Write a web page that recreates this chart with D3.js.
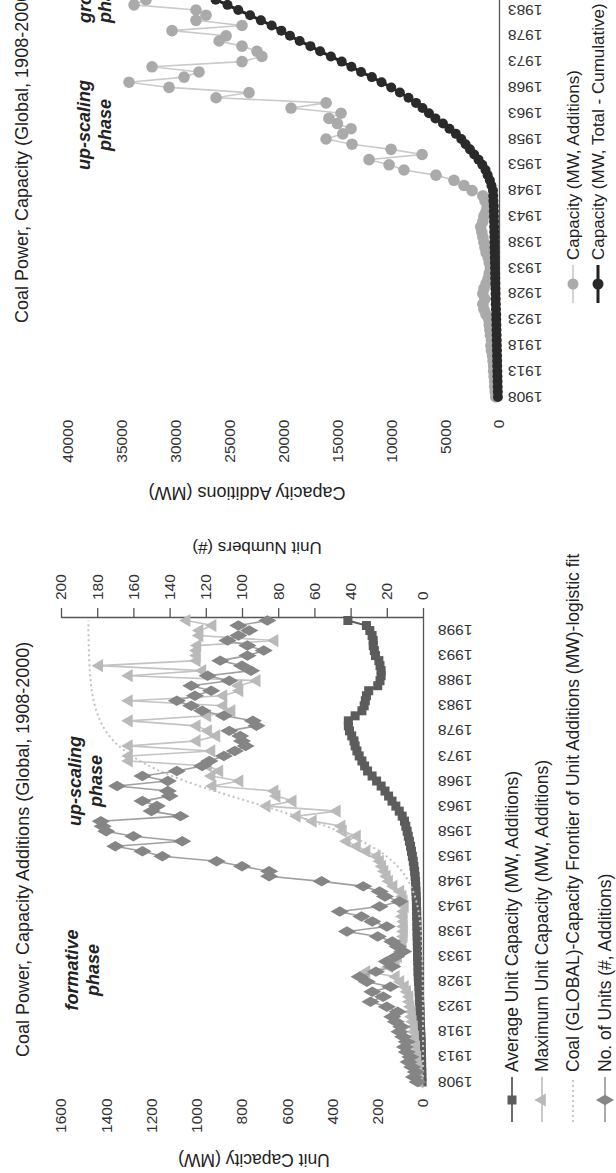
<!DOCTYPE html>
<html>
<head>
<meta charset="utf-8">
<script src="https://cdn.jsdelivr.net/npm/d3@7"></script>
<style>
  body { margin: 0; background: #fff; }
  svg { display: block; font-family: "Liberation Sans", Arial, sans-serif; }
  .tick text { fill: #333; }
</style>
</head>
<body>
<div id="chart"></div>
<script>
// years on the category axis of both panels
var years = d3.range(1908, 2001);
var yearTicks = d3.range(1908, 2001, 5);
var yearTicksRight = d3.range(1908, 1984, 5);

// left panel (MW, left axis)
var avgUnitCapacity = [
  4, 5, 5, 6, 6, 7, 7, 8, 8, 9,
  10, 11, 12, 13, 13, 14, 15, 16, 17, 18,
  20, 21, 22, 22, 23, 24, 24, 25, 25, 26,
  26, 27, 27, 28, 28, 29, 29, 30, 31, 32,
  33, 35, 37, 40, 43, 47, 51, 55, 60, 65,
  70, 76, 82, 92, 105, 120, 137, 152, 168, 185,
  205, 225, 245, 258, 270, 282, 292, 300, 305, 315,
  325, 330, 330, 300, 270, 260, 255, 250, 240, 200,
  190, 185, 185, 190, 195, 210, 215, 220, 220, 225,
  235, 250, 332
];
var maxUnitCapacity = [
  15, 18, 20, 20, 25, 25, 30, 30, 35, 35,
  40, 40, 45, 50, 50, 55, 60, 60, 70, 80,
  100, 120, 250, 150, 120, 110, 100, 90, 90, 85,
  85, 85, 85, 90, 85, 80, 85, 90, 100, 130,
  150, 160, 170, 180, 190, 204, 250, 292, 337, 292,
  354, 360, 487, 558, 381, 691, 576, 647, 656, 930,
  811, 935, 900, 950, 1300, 1300, 935, 1300, 1000, 913,
  950, 1000, 1300, 953, 846, 882, 1300, 882, 811, 815,
  735, 1300, 975, 1431, 1000, 1000, 1001, 997, 656, 988,
  988, 930, 1045
];
var logisticFit = [
  0, 0, 0, 0, 0, 0, 0, 0.1, 0.1, 0.1,
  0.2, 0.2, 0.3, 0.3, 0.4, 0.5, 0.6, 0.7, 0.8, 1,
  1.2, 1.5, 1.8, 2.2, 2.7, 3.3, 4, 4.9, 6, 7.3,
  9, 11, 13.4, 16.3, 19.8, 24, 29.4, 35.7, 43.3, 52.6,
  63.7, 77, 93, 112, 135, 161, 192, 229, 270, 315,
  370, 428, 491, 559, 630, 703, 777, 850, 921, 989,
  1052, 1110, 1165, 1210, 1251, 1288, 1318, 1345, 1368, 1387,
  1403, 1416, 1427, 1436, 1444, 1450, 1456, 1460, 1464, 1467,
  1469, 1471, 1473, 1474, 1475, 1476, 1477, 1477, 1478, 1478,
  1479, 1479, 1479
];
// left panel (#, right axis)
var unitNumbers = [
  3, 5, 4, 6, 8, 7, 9, 10, 9, 11,
  13, 12, 15, 17, 14, 20, 29, 22, 28, 18,
  31, 35, 26, 17, 20, 15, 11, 14, 17, 25,
  42, 20, 28, 34, 46, 24, 13, 21, 24, 33,
  56, 85, 85, 100, 114, 144, 155, 170, 133, 160,
  175, 177, 178, 134, 150, 147, 155, 140, 141, 169,
  141, 155, 136, 122, 118, 110, 104, 98, 100, 101,
  107, 92, 94, 110, 122, 128, 136, 126, 117, 128,
  107, 119, 95, 100, 112, 97, 88, 97, 108, 102,
  96, 102, 86
];

// right panel, 1908-1986 (the rest is cut off by the picture edge)
var capacityAdditions = [
  300, 350, 400, 400, 450, 500, 500, 550, 600, 700,
  750, 700, 800, 850, 900, 950, 1200, 1400, 1500, 1300,
  1500, 1400, 1200, 1000, 900, 800, 900, 1000, 1200, 1300,
  1400, 1500, 1600, 1700, 1500, 1400, 1200, 1100, 1300, 1500,
  2500, 3250, 4180, 5850, 8820, 10200, 12060, 7140, 10020, 13640,
  16050, 14500, 13730, 15000, 15780, 14660, 19300, 16050, 26260, 23200,
  30620, 34340, 29230, 27840, 32200, 23850, 22000, 22460, 23850, 25980,
  25330, 30350, 23850, 28120, 27190, 28120, 33870, 32760, 33000
];
// cumulative total, read against the visible axis (its own axis is cropped away)
var capacityCumulative = [
  100, 110, 120, 130, 140, 150, 160, 170, 180, 190,
  200, 210, 220, 230, 240, 250, 260, 280, 300, 310,
  320, 330, 340, 350, 360, 370, 380, 390, 400, 410,
  420, 430, 440, 450, 460, 470, 480, 490, 520, 540,
  560, 700, 850, 1050, 1250, 1550, 1900, 2300, 2700, 3100,
  3500, 4000, 4600, 5200, 5900, 6500, 7100, 7700, 8400, 9200,
  10000, 10900, 11800, 12800, 13700, 14600, 15600, 16600, 17500, 18500,
  19400, 20200, 21100, 22100, 23100, 24200, 25200, 26300, 27300
];

var leftTicks = d3.range(0, 1601, 200);
var rightTicks = d3.range(0, 201, 20);
var capTicks = d3.range(0, 40001, 5000);

var W = 616, H = 1173;
var fmt = d3.format("d");

var svg = d3.select("#chart")
    .append("svg")
    .attr("width", W)
    .attr("height", H);

svg.append("rect").attr("width", W).attr("height", H).attr("fill", "#fff");

// the whole figure is drawn landscape and turned a quarter to the left
var fig = svg.append("g")
    .attr("transform", "translate(0," + H + ") rotate(-90)");

function zip(vals) {
    return vals.map(function (v, i) { return { year: years[i], v: v }; });
}

// ---------- left panel ----------
var x = d3.scaleBand().domain(years).range([88.5, 555]);
var y = d3.scaleLinear().domain([0, 1600]).range([423, 61]);
var y2 = d3.scaleLinear().domain([0, 200]).range([423, 61]);
var cx = function (d) { return x(d.year) + x.bandwidth() / 2; };

var left = fig.append("g");

left.append("text")
    .attr("x", 116).attr("y", 29)
    .attr("font-size", 18).attr("fill", "#222")
    .text("Coal Power, Capacity Additions (Global, 1908-2000)");

left.append("g")
    .attr("transform", "translate(88.5,0)")
    .call(d3.axisLeft(y).tickValues(leftTicks).tickFormat(fmt).tickSize(0).tickPadding(14))
    .call(function (g) { g.select(".domain").remove(); })
    .selectAll("text").attr("font-size", 15.5);

left.append("g")
    .attr("transform", "translate(555,0)")
    .call(d3.axisRight(y2).tickValues(rightTicks).tickFormat(fmt).tickSize(10).tickPadding(8).tickSizeOuter(0))
    .call(function (g) {
        g.selectAll("line, path").attr("stroke", "#555").attr("stroke-width", 1.3);
        g.selectAll("text").attr("font-size", 15.5);
    });

var xAxisL = left.append("g")
    .attr("transform", "translate(0,423)")
    .call(d3.axisBottom(x).tickValues(yearTicks).tickSize(0).tickSizeOuter(0));
xAxisL.select(".domain").attr("stroke", "#555").attr("stroke-width", 1.3);
xAxisL.selectAll("text")
    .attr("font-size", 15.5)
    .attr("transform", "rotate(-90)")
    .attr("text-anchor", "end")
    .attr("x", -15).attr("y", 0).attr("dy", "0.35em");

left.append("text")
    .attr("transform", "translate(13,254) rotate(-90)")
    .attr("text-anchor", "middle").attr("dy", "0.35em")
    .attr("font-size", 17.5).attr("fill", "#222")
    .text("Unit Capacity (MW)");

left.append("text")
    .attr("transform", "translate(625,257) rotate(-90)")
    .attr("text-anchor", "middle").attr("dy", "0.35em")
    .attr("font-size", 17).attr("fill", "#222")
    .text("Unit Numbers (#)");

var phase = function (g, lines, px, py0) {
    g.append("text")
        .attr("font-size", 18).attr("font-weight", "bold").attr("font-style", "italic")
        .attr("fill", "#222").attr("text-anchor", "middle")
        .selectAll("tspan").data(lines).enter().append("tspan")
        .attr("x", px).attr("y", function (d, i) { return py0 + i * 21; })
        .text(function (d) { return d; });
};
phase(left, ["formative", "phase"], 203, 78);
phase(left, ["up-scaling", "phase"], 392, 81);

var lineL = function (sc) {
    return d3.line().x(cx).y(function (d) { return sc(d.v); });
};

// average unit capacity
left.append("path").datum(zip(avgUnitCapacity))
    .attr("d", lineL(y)).attr("fill", "none")
    .attr("stroke", "#5c5c5c").attr("stroke-width", 2);
left.append("g").selectAll("rect").data(zip(avgUnitCapacity)).enter().append("rect")
    .attr("x", function (d) { return cx(d) - 4.5; })
    .attr("y", function (d) { return y(d.v) - 4.5; })
    .attr("width", 9).attr("height", 9)
    .attr("fill", "#5c5c5c");

// maximum unit capacity
left.append("path").datum(zip(maxUnitCapacity))
    .attr("d", lineL(y)).attr("fill", "none")
    .attr("stroke", "#c4c4c4").attr("stroke-width", 1.6);
left.append("g").selectAll("path").data(zip(maxUnitCapacity)).enter().append("path")
    .attr("d", d3.symbol().type(d3.symbolTriangle).size(75))
    .attr("transform", function (d) { return "translate(" + cx(d) + "," + y(d.v) + ")"; })
    .attr("fill", "#b9b9b9");

// logistic fit
left.append("path").datum(zip(logisticFit))
    .attr("d", lineL(y)).attr("fill", "none")
    .attr("stroke", "#c2c2c2").attr("stroke-width", 2)
    .attr("stroke-dasharray", "2,3");

// number of units
left.append("path").datum(zip(unitNumbers))
    .attr("d", lineL(y2)).attr("fill", "none")
    .attr("stroke", "#a0a0a0").attr("stroke-width", 1.6);
left.append("g").selectAll("path").data(zip(unitNumbers)).enter().append("path")
    .attr("d", d3.symbol().type(d3.symbolDiamond).size(95))
    .attr("transform", function (d) { return "translate(" + cx(d) + "," + y2(d.v) + ")"; })
    .attr("fill", "#858585");

// legend
var legendL = [
    { label: "Average Unit Capacity (MW, Additions)", color: "#5c5c5c", mark: "square" },
    { label: "Maximum Unit Capacity (MW, Additions)", color: "#c4c4c4", mark: "triangle" },
    { label: "Coal (GLOBAL)-Capacity Frontier of Unit Additions (MW)-logistic fit", color: "#c2c2c2", mark: "none" },
    { label: "No. of Units (#, Additions)", color: "#a0a0a0", mark: "diamond" }
];
var legRowsL = [512, 542, 573, 605];
var lg = left.append("g").selectAll("g").data(legendL).enter().append("g")
    .attr("transform", function (d, i) { return "translate(0," + legRowsL[i] + ")"; });
lg.append("line")
    .attr("x1", 51).attr("x2", 96)
    .attr("stroke", function (d) { return d.color; })
    .attr("stroke-width", 1.8)
    .attr("stroke-dasharray", function (d) { return d.mark == "none" ? "2,3" : null; });
lg.each(function (d) {
    var g = d3.select(this);
    if (d.mark == "square") {
        g.append("rect").attr("x", 68.5).attr("y", -4.5).attr("width", 9).attr("height", 9).attr("fill", d.color);
    } else if (d.mark == "triangle") {
        g.append("path").attr("d", d3.symbol().type(d3.symbolTriangle).size(75))
            .attr("transform", "translate(73,0)").attr("fill", "#b9b9b9");
    } else if (d.mark == "diamond") {
        g.append("path").attr("d", d3.symbol().type(d3.symbolDiamond).size(95))
            .attr("transform", "translate(73,0)").attr("fill", "#858585");
    }
});
lg.append("text")
    .attr("x", 101).attr("dy", "0.35em")
    .attr("font-size", 17.5).attr("fill", "#222")
    .text(function (d) { return d.label; });

// ---------- right panel ----------
var xr = d3.scaleBand().domain(years).range([773.4, 773.4 + 93 * 5.16]);
var yr = d3.scaleLinear().domain([0, 40000]).range([499, 68]);
var cxr = function (d) { return xr(d.year) + xr.bandwidth() / 2; };

var right = fig.append("g");

right.append("text")
    .attr("x", 850).attr("y", 28)
    .attr("font-size", 18).attr("fill", "#222")
    .text("Coal Power, Capacity (Global, 1908-2000)");

right.append("g")
    .attr("transform", "translate(773.4,0)")
    .call(d3.axisLeft(yr).tickValues(capTicks).tickFormat(fmt).tickSize(0).tickPadding(20))
    .call(function (g) { g.select(".domain").remove(); })
    .selectAll("text").attr("font-size", 15.5);

var xAxisR = right.append("g")
    .attr("transform", "translate(0,499)")
    .call(d3.axisBottom(xr).tickValues(yearTicksRight).tickSize(0).tickSizeOuter(0));
xAxisR.select(".domain").attr("stroke", "#555").attr("stroke-width", 1.3);
xAxisR.selectAll("text")
    .attr("font-size", 15.5)
    .attr("transform", "rotate(-90)")
    .attr("text-anchor", "end")
    .attr("x", -9).attr("y", 0).attr("dy", "0.35em");

right.append("text")
    .attr("transform", "translate(680,247) rotate(-90)")
    .attr("text-anchor", "middle").attr("dy", "0.35em")
    .attr("font-size", 18).attr("fill", "#222")
    .text("Capacity Additions (MW)");

phase(right, ["up-scaling", "phase"], 1048, 90);
right.append("text")
    .attr("font-size", 18).attr("font-weight", "bold").attr("font-style", "italic")
    .attr("fill", "#222")
    .selectAll("tspan").data(["growth", "phase"]).enter().append("tspan")
    .attr("x", 1150).attr("y", function (d, i) { return 91 + i * 20; })
    .text(function (d) { return d; });

var lineR = d3.line().x(cxr).y(function (d) { return yr(d.v); });

right.append("path").datum(zip(capacityAdditions))
    .attr("d", lineR).attr("fill", "none")
    .attr("stroke", "#cacaca").attr("stroke-width", 1.6);
right.append("g").selectAll("circle").data(zip(capacityAdditions)).enter().append("circle")
    .attr("cx", cxr).attr("cy", function (d) { return yr(d.v); })
    .attr("r", 5.8).attr("fill", "#aaaaaa");

right.append("path").datum(zip(capacityCumulative))
    .attr("d", lineR).attr("fill", "none")
    .attr("stroke", "#222").attr("stroke-width", 3);
right.append("g").selectAll("circle").data(zip(capacityCumulative)).enter().append("circle")
    .attr("cx", cxr).attr("cy", function (d) { return yr(d.v); })
    .attr("r", 5).attr("fill", "#2a2a2a");

var legendR = [
    { label: "Capacity (MW, Additions)", line: "#cacaca", fill: "#aaaaaa", w: 1.6 },
    { label: "Capacity (MW, Total - Cumulative)", line: "#222", fill: "#2a2a2a", w: 3 }
];
var legRowsR = [573, 598];
var lr = right.append("g").selectAll("g").data(legendR).enter().append("g")
    .attr("transform", function (d, i) { return "translate(0," + legRowsR[i] + ")"; });
lr.append("line")
    .attr("x1", 870).attr("x2", 908)
    .attr("stroke", function (d) { return d.line; })
    .attr("stroke-width", function (d) { return d.w; });
lr.append("circle")
    .attr("cx", 889).attr("r", 5.5)
    .attr("fill", function (d) { return d.fill; });
lr.append("text")
    .attr("x", 913).attr("dy", "0.35em")
    .attr("font-size", 17).attr("fill", "#222")
    .text(function (d) { return d.label; });
</script>
</body>
</html>
